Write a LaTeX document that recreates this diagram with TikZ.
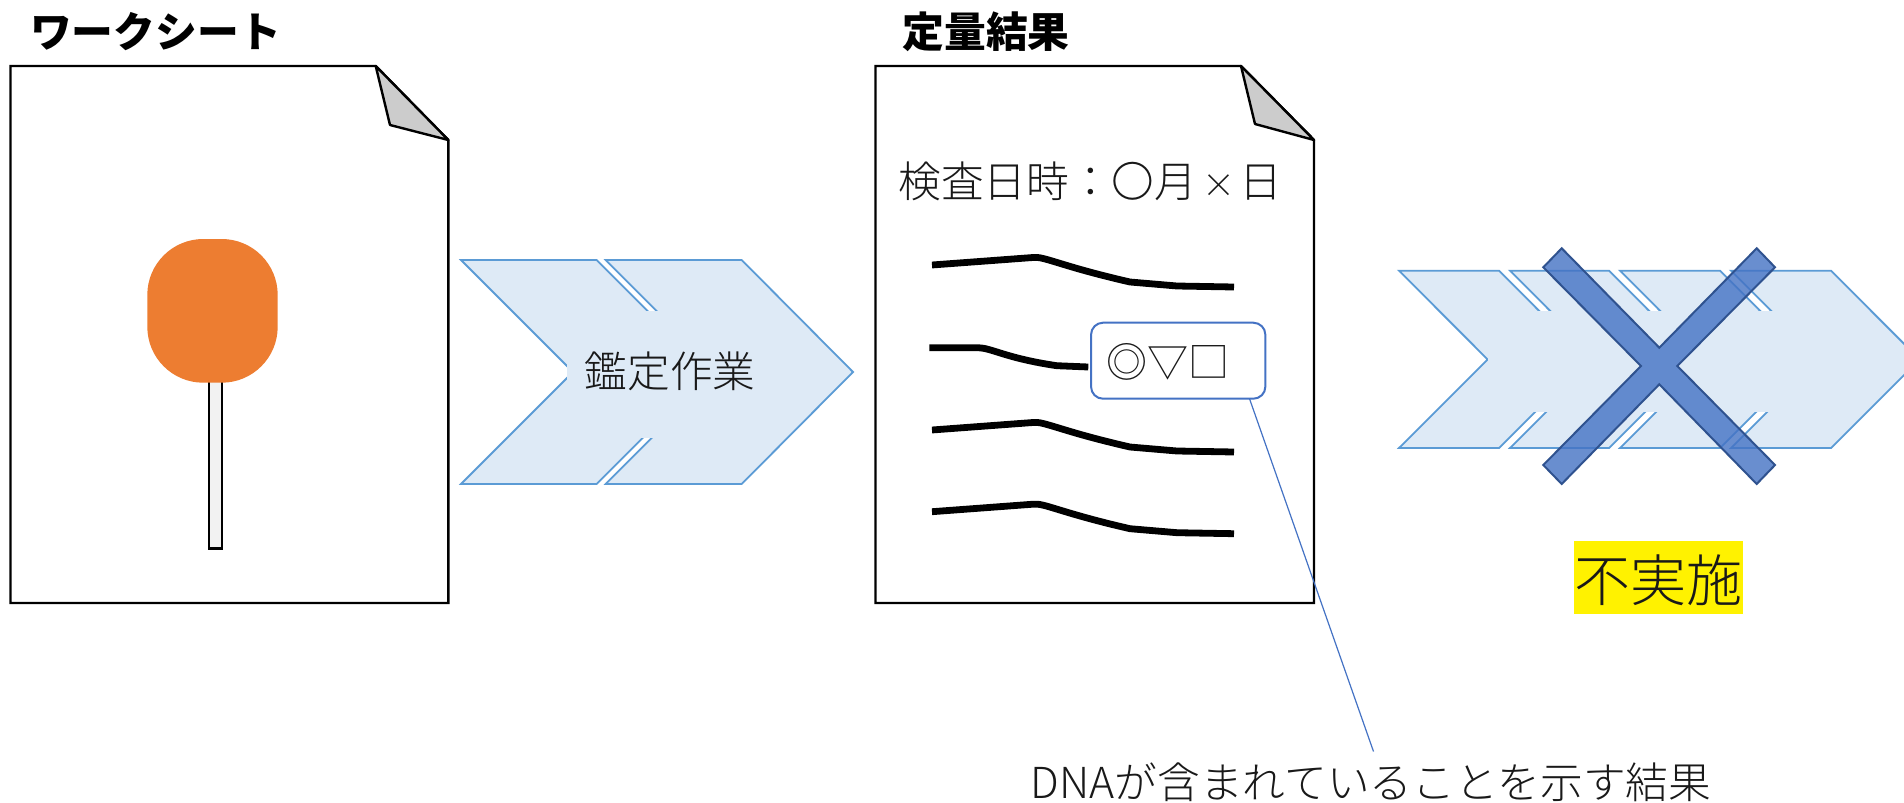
\documentclass[tikz,border=0pt]{standalone}
\usepackage{fontspec}
\setmainfont{Noto Sans CJK JP}
\newfontfamily\jplight{Noto Sans CJK JP Light}
\begin{document}
\begin{tikzpicture}[x=1pt,y=-1pt,
  pagebox/.style={draw=black,line width=2.4pt,fill=white,line join=miter},
  foldbox/.style={draw=black,line width=2.4pt,fill=black!20,line join=round},
  chev/.style={draw=chevline,line width=1.8pt,fill=chevfill,line join=miter},
  title/.style={font=\fontsize{41.8pt}{44pt}\selectfont\bfseries,inner sep=0pt},
  body/.style={font=\jplight\fontsize{42.7pt}{46pt}\selectfont,inner sep=0pt,text=black!90},
  trace/.style={draw=black,line width=6.8pt,line join=round},
]
\definecolor{chevline}{HTML}{5B9BD5}
\definecolor{chevfill}{HTML}{DEEAF6}
\definecolor{accent}{HTML}{4472C4}
\definecolor{crossline}{HTML}{2F528F}
\definecolor{headfill}{HTML}{ED7D31}
\useasboundingbox (0,0) rectangle (1904,803);
\fill[white] (0,0) rectangle (1904,803);

% worksheet page
\draw[pagebox] (10.5,66) -- (375.7,66) -- (448.3,140) -- (448.3,603) -- (10.5,603) -- cycle;
\draw[foldbox] (375.7,66) -- (390,125) -- (448.3,140) -- cycle;
\draw[black,line width=2.2pt,fill=black!5] (209,380) rectangle (222.3,548.5);
\fill[headfill,rounded corners=56pt] (147.3,239) rectangle (277.7,382.7);
\node[title] (t1) at (155.5,32) {ワークシート};

% result page
\draw[pagebox] (875.5,66) -- (1241,66) -- (1314,140) -- (1314,603) -- (875.5,603) -- cycle;
\draw[foldbox] (1241,66) -- (1255,124) -- (1314,140) -- cycle;
\node[title] (t2) at (986,32) {定量結果};
\node[body] (date) at (1090.5,181.7) {検査日時：〇月\makebox[42.7pt]{\fontsize{33pt}{46pt}\selectfont ×}日};

\foreach \d in {0,165,246.7}{
  \draw[trace] (932,265+\d) -- (1033,257.5+\d) .. controls (1044,256+\d) and (1060,266+\d) .. (1130,282+\d) -- (1177,286+\d) -- (1234,287+\d);
}
\draw[trace] (929.3,347.7) -- (978,347.7) .. controls (992,348) and (1005,358) .. (1056.7,365.7) -- (1088.3,367);

% callout
\coordinate (leadA) at (1249.5,398.7);
\coordinate (leadB) at (1373.5,751.5);
\draw[accent,line width=1.2pt] (leadA) -- (leadB);
\node[draw=accent,line width=2pt,fill=white,rounded corners=12pt,minimum width=174.3pt,minimum height=76pt,inner sep=0pt] (callout) at (1178.2,360.7) {};
\node[body,font=\jplight\fontsize{41pt}{46pt}\selectfont] (marks) at (1168,361.5) {◎▽□};
\node[body] (note) at (1371,782) {DNAが含まれていることを示す結果};

% first chevron
\draw[chev] (461,260) -- (596.7,260) -- (708.7,372) -- (596.7,484) -- (461,484) -- (573,372) -- cycle;
\draw[chev] (605.7,260) -- (741.7,260) -- (853,372) -- (741.7,484) -- (605.7,484) -- (717.7,372) -- cycle;
\fill[chevfill] (567,311) rectangle (780,438);
\node[body] (work) at (670,371.7) {鑑定作業};

% ghost chevrons
\foreach \a/\b in {1399/1499,1510/1609,1620/1720,1731/1831}{
  \draw[chev] (\a,270.7) -- (\b,270.7) -- (\b+88.7,359.5) -- (\b,448) -- (\a,448) -- (\a+88.7,359.5) -- cycle;
}
\fill[chevfill] (1487.7,311) rectangle (1860,412);

% cross
\draw[draw=crossline,line width=2pt,fill=accent,fill opacity=0.8,line join=miter]
  (1561.7,248.3) -- (1659.3,347.7) -- (1756.7,248.3) -- (1775,267.3) -- (1677.3,366) -- (1775,465) -- (1756.7,484) -- (1659.3,384.3) -- (1561.7,484) -- (1543.3,465) -- (1641,366) -- (1543.3,267.3) -- cycle;

% not performed
\fill[yellow] (1574,541) rectangle (1743,614);
\node[inner sep=0pt,font=\jplight\fontsize{56pt}{60pt}\selectfont,text=black!90] (none) at (1658,580) {不実施};
\end{tikzpicture}
\end{document}
